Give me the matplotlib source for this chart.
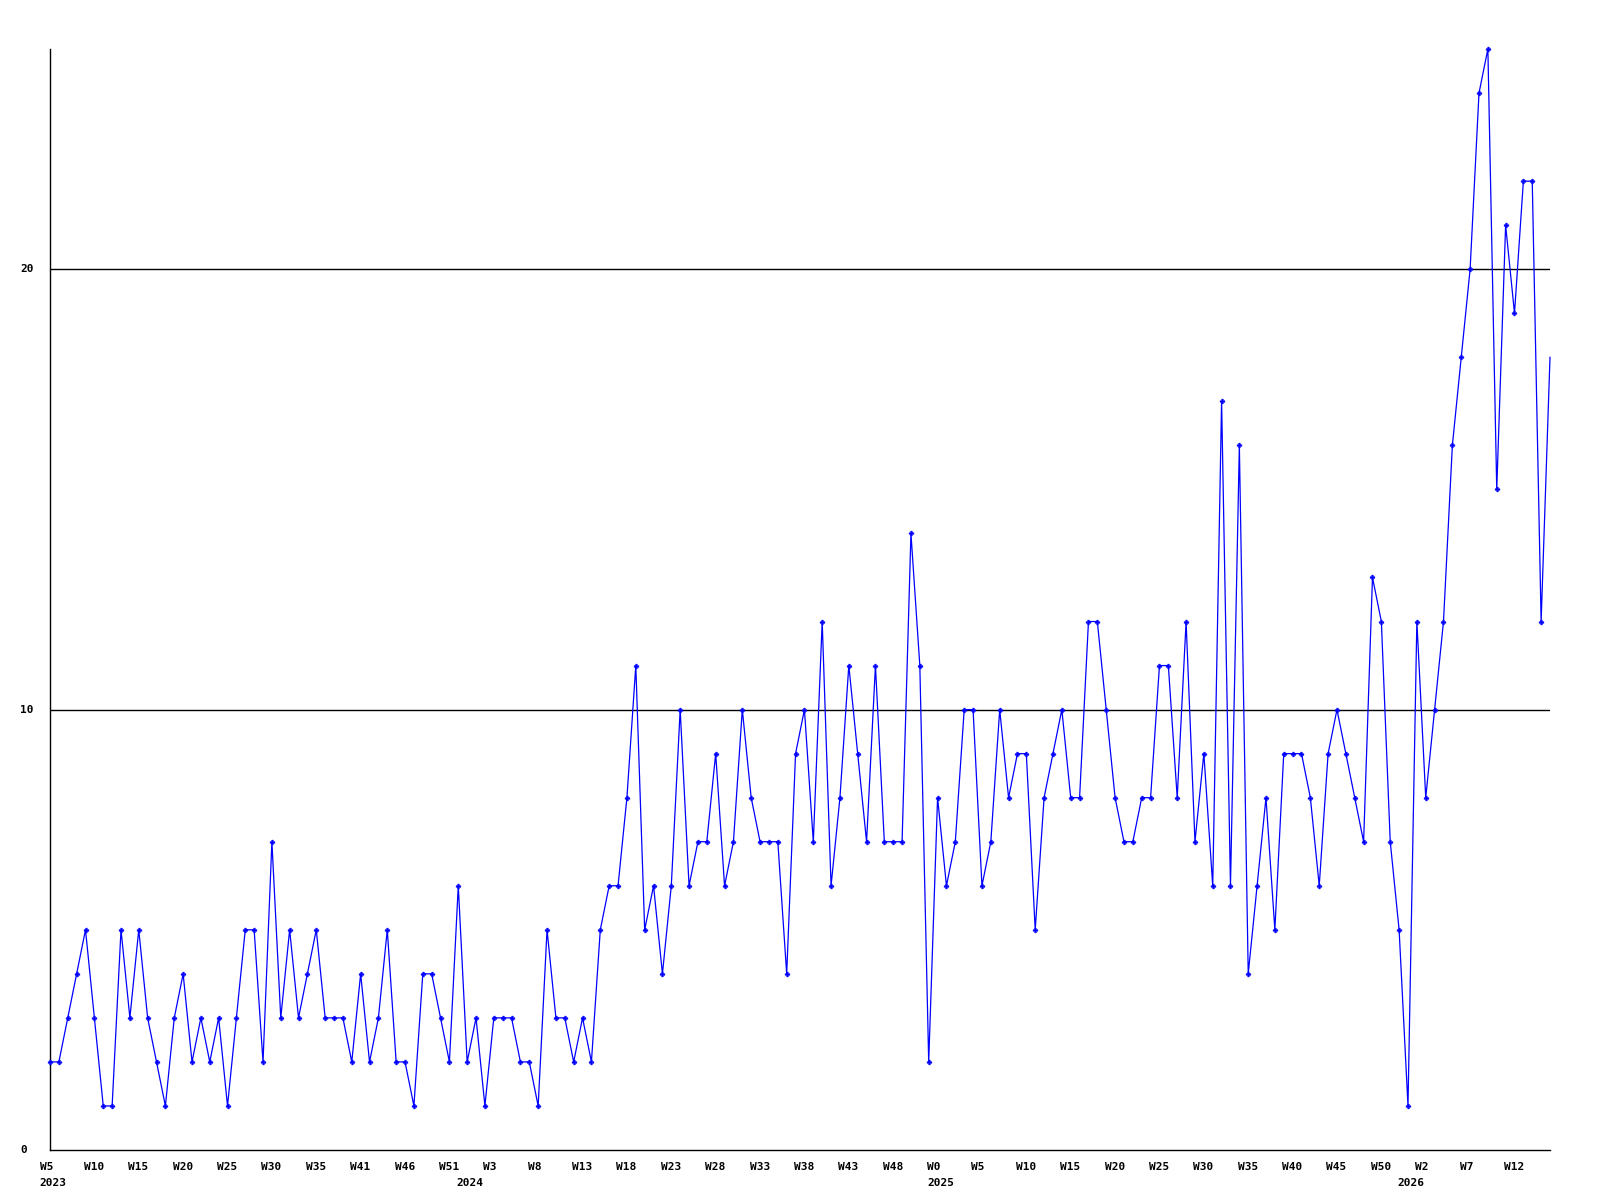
import numpy as np
import matplotlib
matplotlib.use('Agg')
from matplotlib import pyplot as plt
from matplotlib import transforms as mtransforms

# weekly counts, 2023 W5 .. 2026 W16
counts = [
    2, 2, 3, 4, 5, 3, 1, 1, 5, 3, 5, 3, 2, 1, 3, 4, 2, 3, 2, 3,
    1, 3, 5, 5, 2, 7, 3, 5, 3, 4, 5, 3, 3, 3, 2, 4, 2, 3, 5, 2,
    2, 1, 4, 4, 3, 2, 6, 2, 3, 1, 3, 3, 3, 2, 2, 1, 5, 3, 3, 2,
    3, 2, 5, 6, 6, 8, 11, 5, 6, 4, 6, 10, 6, 7, 7, 9, 6, 7, 10, 8,
    7, 7, 7, 4, 9, 10, 7, 12, 6, 8, 11, 9, 7, 11, 7, 7, 7, 14, 11, 2,
    8, 6, 7, 10, 10, 6, 7, 10, 8, 9, 9, 5, 8, 9, 10, 8, 8, 12, 12, 10,
    8, 7, 7, 8, 8, 11, 11, 8, 12, 7, 9, 6, 17, 6, 16, 4, 6, 8, 5, 9,
    9, 9, 8, 6, 9, 10, 9, 8, 7, 13, 12, 7, 5, 1, 12, 8, 10, 12, 16, 18,
    20, 24, 25, 15, 21, 19, 22, 22, 12, 18,
]

# one label every 5 weeks
week_labels = [
    'W5', 'W10', 'W15', 'W20', 'W25', 'W30', 'W35', 'W41', 'W46', 'W51',
    'W3', 'W8', 'W13', 'W18', 'W23', 'W28', 'W33', 'W38', 'W43', 'W48',
    'W0', 'W5', 'W10', 'W15', 'W20', 'W25', 'W30', 'W35', 'W40', 'W45',
    'W50', 'W2', 'W7', 'W12',
]
year_labels = ['2023', '2024', '2025', '2026']
year_first_week = [0, 47, 100, 153]
y_ticks = [0, 10, 20]

x = np.arange(len(counts))

fig = plt.figure(figsize=(16, 12), dpi=100)
ax = fig.add_axes([50 / 1600, 50 / 1200, 1500 / 1600, 1101 / 1200])

# last point sits on the right edge, its marker is cut off
ax.plot(x, counts, color='#0000ff', lw=0.9, marker='P', ms=3.5,
        mec='#0000ff', mfc='#0000ff', mew=0.3, zorder=3, clip_on=False,
        markevery=list(range(len(counts) - 1)))

ax.set_xlim(0, len(counts) - 1)
ax.set_ylim(0, 25)

for v in y_ticks[1:]:
    ax.axhline(v, color='black', lw=1.0, zorder=2)

for s in ['top', 'right']:
    ax.spines[s].set_visible(False)
ax.spines['left'].set_linewidth(1.0)
ax.spines['bottom'].set_linewidth(1.0)
ax.set_xticks([])
ax.set_yticks([])

font = dict(family='DejaVu Sans Mono', weight='bold', size=8)

# y labels sit at the left edge of the figure
ytrans = mtransforms.blended_transform_factory(fig.transFigure, ax.transData)
for v in y_ticks:
    fig.text(20 / 1600, v, str(v), transform=ytrans, ha='left', va='center', **font)

# week / year labels start a little left of their point
xtrans = mtransforms.blended_transform_factory(ax.transData, fig.transFigure)
xtrans = mtransforms.offset_copy(xtrans, fig=fig, x=-10.5, y=0, units='dots')
for i, lab in enumerate(week_labels):
    fig.text(i * 5, 1 - 1167 / 1200, lab, transform=xtrans,
             ha='left', va='center', **font)
for pos, lab in zip(year_first_week, year_labels):
    fig.text(pos, 1 - 1183 / 1200, lab, transform=xtrans,
             ha='left', va='center', **font)

fig.savefig('out.png', dpi=100)
